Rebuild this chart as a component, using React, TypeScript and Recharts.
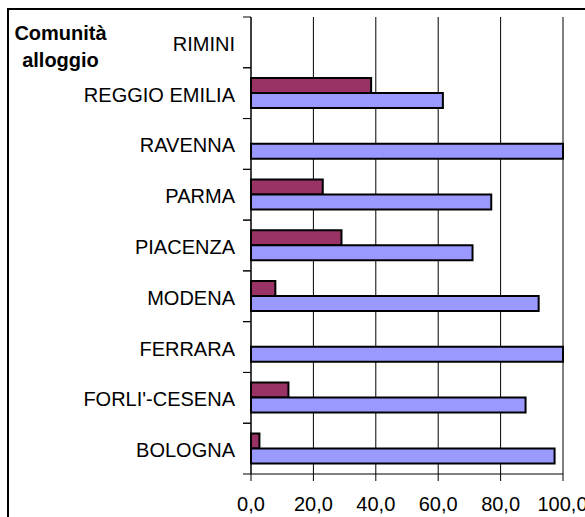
import { BarChart, Bar, XAxis, YAxis, CartesianGrid } from 'recharts';

const provinces = [
    'RIMINI',
    'REGGIO EMILIA',
    'RAVENNA',
    'PARMA',
    'PIACENZA',
    'MODENA',
    'FERRARA',
    "FORLI'-CESENA",
    'BOLOGNA'
];
const maroonValues = [null, 38.5, null, 23.0, 29.0, 7.8, null, 12.0, 2.7];
const blueValues = [null, 61.5, 100, 77.0, 71.0, 92.2, 100, 88.0, 97.3];
const xTicks = [0, 20, 40, 60, 80, 100];

const data = provinces.map((name, i) => ({
    name,
    maroon: maroonValues[i],
    blue: blueValues[i]
}));

const PLOT_TOP = 17;
const PLOT_BOTTOM = 474;
const AXIS_X = 251;
const BAND = (PLOT_BOTTOM - PLOT_TOP) / provinces.length;

function CategoryTick(props: any) {
    const { y, payload } = props;
    return (
        <g>
            <line x1={AXIS_X - 8} x2={AXIS_X} y1={y - BAND / 2} y2={y - BAND / 2} stroke="#000" />
            <line x1={AXIS_X - 8} x2={AXIS_X} y1={y + BAND / 2} y2={y + BAND / 2} stroke="#000" />
            <text x={AXIS_X - 16} y={y} dy={8.5} textAnchor="end" fontSize={20} fill="#000">
                {payload.value}
            </text>
        </g>
    );
}

export default function App() {
    return (
        <div
            style={{
                position: 'fixed',
                left: 0,
                top: 0,
                width: 585,
                height: 517,
                overflow: 'hidden',
                background: '#fff',
                fontFamily: "Arial, 'Liberation Sans', sans-serif"
            }}
        >
            <div
                style={{
                    position: 'absolute',
                    left: 7,
                    top: 8,
                    width: 620,
                    height: 560,
                    border: '2px solid #000'
                }}
            />
            <div
                style={{
                    position: 'absolute',
                    left: 10,
                    top: 20,
                    width: 101,
                    textAlign: 'center',
                    fontWeight: 'bold',
                    fontSize: 20,
                    lineHeight: '26.7px',
                    color: '#000'
                }}
            >
                Comunità
                <br />
                alloggio
            </div>
            <div style={{ position: 'absolute', left: 0, top: 0 }}>
                <BarChart
                    width={585}
                    height={517}
                    data={data}
                    layout="vertical"
                    margin={{ top: PLOT_TOP, right: 22, bottom: 0, left: 0 }}
                    barCategoryGap="20%"
                    barGap={0}
                >
                    <CartesianGrid horizontal={false} stroke="#000" />
                    <XAxis
                        type="number"
                        domain={[0, 100]}
                        ticks={xTicks}
                        height={43}
                        stroke="#000"
                        tickSize={7}
                        tickMargin={16}
                        tick={{ fontSize: 20, fill: '#000' }}
                        tickFormatter={(v: number) => v.toFixed(1).replace('.', ',')}
                    />
                    <YAxis
                        type="category"
                        dataKey="name"
                        width={AXIS_X}
                        stroke="#000"
                        tickLine={false}
                        interval={0}
                        tick={<CategoryTick />}
                    />
                    <Bar dataKey="maroon" fill="#993366" stroke="#000" strokeWidth={2} isAnimationActive={false} />
                    <Bar dataKey="blue" fill="#9999FF" stroke="#000" strokeWidth={2} isAnimationActive={false} />
                </BarChart>
            </div>
        </div>
    );
}
